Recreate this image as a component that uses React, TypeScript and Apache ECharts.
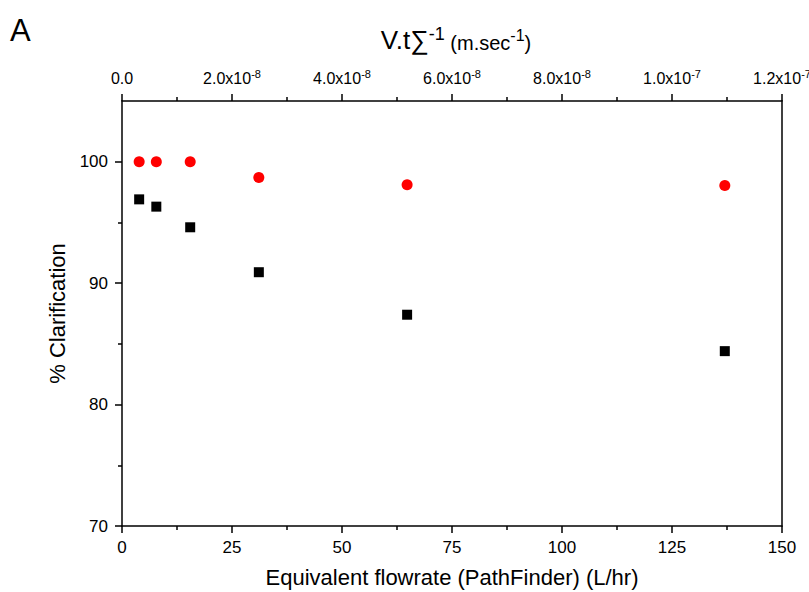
import React, { useEffect, useRef } from "react";
import * as echarts from "echarts";

const flowrate = [3.9, 7.8, 15.5, 31.1, 64.8, 137.0];
const clarRed = [100, 100, 100, 98.7, 98.1, 98.05];
const clarBlack = [96.9, 96.3, 94.6, 90.9, 87.4, 84.4];
const yMajorTicks = [70, 80, 90, 100];
const yMinorTicks = [75, 85, 95];

const FONT = "Liberation Sans, Arial, sans-serif";

export default function App() {
  const ref = useRef<HTMLDivElement>(null);
  useEffect(() => {
    if (!ref.current) return;
    const chart = echarts.init(ref.current, null, { renderer: "svg" });
    const axisLineStyle = { color: "#000", width: 1.5 };
    chart.setOption({
      animation: false,
      backgroundColor: "#fff",
      textStyle: { fontFamily: FONT, color: "#000" },
      grid: { left: 122, right: 27, top: 101, bottom: 66, containLabel: false, outerBoundsMode: "none" },
      graphic: [
        {
          type: "text",
          left: 10,
          top: 15,
          style: { text: "A", fontSize: 31, fontFamily: FONT, fill: "#000" },
        },
      ],
      xAxis: [
        {
          type: "value",
          position: "bottom",
          min: 0,
          max: 150,
          interval: 25,
          name: "Equivalent flowrate (PathFinder) (L/hr)",
          nameLocation: "middle",
          nameGap: 40,
          nameTextStyle: { fontSize: 22, color: "#000", fontFamily: FONT },
          axisLine: { show: true, onZero: false, lineStyle: axisLineStyle },
          axisTick: { show: true, inside: false, length: 7, lineStyle: axisLineStyle },
          minorTick: { show: true, splitNumber: 2, length: 4, lineStyle: { color: "#000", width: 1.5 } },
          axisLabel: { fontSize: 17, color: "#000", margin: 13, fontFamily: FONT },
          splitLine: { show: false },
        },
        {
          type: "value",
          position: "top",
          min: 0,
          max: 1.2e-7,
          interval: 2e-8,
          name: "{a|V.t∑}{b|-1}{c| (m.sec}{d|-1}{c|)}",
          nameLocation: "middle",
          nameGap: 48,
          nameTextStyle: {
            color: "#000",
            fontFamily: FONT,
            padding: [0, 0, 0, 8],
            rich: {
              a: { fontSize: 26, fontFamily: FONT, color: "#000", verticalAlign: "bottom" },
              b: { fontSize: 18, fontFamily: FONT, color: "#000", padding: [0, 0, 10, 0], verticalAlign: "bottom" },
              c: { fontSize: 20, fontFamily: FONT, color: "#000", verticalAlign: "bottom" },
              d: { fontSize: 16, fontFamily: FONT, color: "#000", padding: [0, 0, 10, 0], verticalAlign: "bottom" },
            },
          },
          axisLine: { show: true, onZero: false, lineStyle: axisLineStyle },
          axisTick: { show: true, inside: false, length: 7, lineStyle: axisLineStyle },
          minorTick: { show: true, splitNumber: 2, length: 4, lineStyle: { color: "#000", width: 1.5 } },
          axisLabel: {
            margin: 15,
            color: "#000",
            fontFamily: FONT,
            formatter: (v: number) => {
              if (Math.abs(v) < 1e-20) return "{m|0.0}";
              const [m, e] = v.toExponential(1).split("e");
              return `{m|${m}x10}{s|${parseInt(e, 10)}}`;
            },
            rich: {
              m: { fontSize: 16, fontFamily: FONT, color: "#000", verticalAlign: "bottom" },
              s: { fontSize: 11, fontFamily: FONT, color: "#000", padding: [0, 0, 7, 0], verticalAlign: "bottom" },
            },
          },
          splitLine: { show: false },
        },
      ],
      yAxis: [
        {
          type: "value",
          position: "left",
          min: 70,
          max: 105,
          interval: 10,
          name: "% Clarification",
          nameLocation: "middle",
          nameGap: 46,
          nameTextStyle: { fontSize: 22, color: "#000", fontFamily: FONT },
          axisLine: { show: true, onZero: false, lineStyle: axisLineStyle },
          axisTick: { show: true, inside: false, length: 7, lineStyle: axisLineStyle, customValues: yMajorTicks },
          axisLabel: { fontSize: 17, color: "#000", margin: 14, fontFamily: FONT, customValues: yMajorTicks },
          splitLine: { show: false },
        },
        {
          type: "value",
          position: "left",
          min: 70,
          max: 105,
          interval: 10,
          axisLine: { show: false },
          axisTick: { show: true, inside: false, length: 4, lineStyle: axisLineStyle, customValues: yMinorTicks },
          axisLabel: { show: false },
          splitLine: { show: false },
        },
        {
          type: "value",
          position: "right",
          min: 70,
          max: 105,
          axisLine: { show: true, onZero: false, lineStyle: axisLineStyle },
          axisTick: { show: false },
          axisLabel: { show: false },
          splitLine: { show: false },
        },
      ],
      series: [
        {
          type: "scatter",
          xAxisIndex: 0,
          yAxisIndex: 0,
          symbol: "rect",
          symbolSize: 10,
          itemStyle: { color: "#000", opacity: 1 },
          data: flowrate.map((x, i) => [x, clarBlack[i]]),
        },
        {
          type: "scatter",
          xAxisIndex: 0,
          yAxisIndex: 0,
          symbol: "circle",
          symbolSize: 11,
          itemStyle: { color: "#ff0000", opacity: 1 },
          data: flowrate.map((x, i) => [x, clarRed[i]]),
        },
      ],
    });
    return () => chart.dispose();
  }, []);
  return <div ref={ref} style={{ width: 809, height: 592, position: "absolute", left: 0, top: 0 }} />;
}
